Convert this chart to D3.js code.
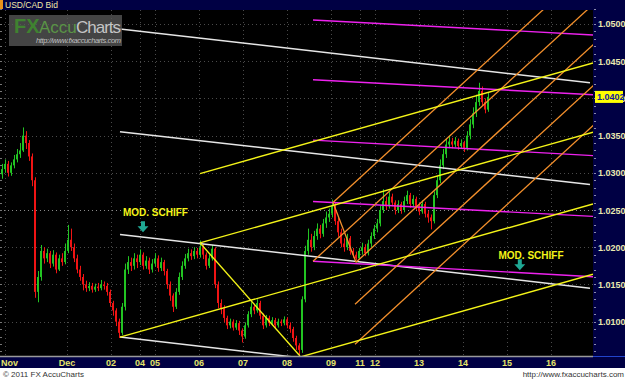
<!DOCTYPE html>
<html><head><meta charset="utf-8">
<script src="https://cdn.jsdelivr.net/npm/d3@7"></script>
<style>body{margin:0;background:#fff}svg{display:block}</style>
</head><body><svg id="c" width="625" height="380"></svg>
<script>
// ---------- DATA ----------
const firstOpen = 1.0298;
const closes = [
1.0305,1.0312,1.0300,1.0310,1.0318,1.0325,1.0330,1.0350,1.0340,1.0322,
1.0290,1.0140,1.0160,1.0195,1.0185,1.0192,1.0178,1.0190,1.0170,1.0185,
1.0180,1.0195,1.0210,1.0200,1.0185,1.0170,1.0160,1.0150,1.0145,1.0148,
1.0143,1.0147,1.0145,1.0150,1.0148,1.0140,1.0125,1.0115,1.0100,1.0085,
1.0120,1.0170,1.0180,1.0175,1.0185,1.0180,1.0190,1.0175,1.0182,1.0170,
1.0178,1.0185,1.0172,1.0180,1.0168,1.0150,1.0135,1.0120,1.0140,1.0160,
1.0175,1.0185,1.0192,1.0188,1.0195,1.0190,1.0200,1.0190,1.0175,1.0185,
1.0198,1.0150,1.0125,1.0118,1.0105,1.0095,1.0100,1.0092,1.0098,1.0088,
1.0080,1.0095,1.0110,1.0120,1.0115,1.0125,1.0108,1.0095,1.0105,1.0098,
1.0102,1.0095,1.0100,1.0098,1.0103,1.0095,1.0090,1.0078,1.0068,1.0062,
1.0130,1.0195,1.0210,1.0200,1.0215,1.0225,1.0218,1.0232,1.0240,1.0245,
1.0255,1.0235,1.0220,1.0205,1.0200,1.0212,1.0195,1.0190,1.0185,1.0195,
1.0200,1.0192,1.0205,1.0215,1.0225,1.0232,1.0250,1.0262,1.0255,1.0268,
1.0260,1.0250,1.0258,1.0250,1.0262,1.0270,1.0258,1.0265,1.0255,1.0248,
1.0258,1.0245,1.0240,1.0235,1.0270,1.0290,1.0310,1.0325,1.0338,1.0342,
1.0338,1.0343,1.0336,1.0340,1.0333,1.0350,1.0365,1.0380,1.0395,1.0410,
1.0395,1.0385,1.0402];
const highs = [
1.0312,1.0318,1.0316,1.0314,1.0324,1.0332,1.0340,1.0361,1.0356,1.0344,
1.0326,1.0294,1.0168,1.0203,1.0200,1.0198,1.0195,1.0196,1.0193,1.0190,
1.0192,1.0205,1.0230,1.0225,1.0205,1.0190,1.0175,1.0164,1.0155,1.0153,
1.0152,1.0151,1.0152,1.0156,1.0154,1.0152,1.0143,1.0128,1.0118,1.0104,
1.0125,1.0178,1.0188,1.0186,1.0192,1.0190,1.0197,1.0193,1.0188,1.0186,
1.0184,1.0192,1.0189,1.0186,1.0183,1.0171,1.0154,1.0138,1.0145,1.0166,
1.0181,1.0191,1.0198,1.0197,1.0200,1.0199,1.0209,1.0204,1.0193,1.0190,
1.0203,1.0200,1.0154,1.0130,1.0122,1.0108,1.0104,1.0103,1.0102,1.0101,
1.0091,1.0099,1.0114,1.0126,1.0124,1.0130,1.0128,1.0111,1.0109,1.0108,
1.0106,1.0105,1.0104,1.0103,1.0107,1.0106,1.0099,1.0093,1.0081,1.0071,
1.0134,1.0202,1.0225,1.0218,1.0222,1.0232,1.0230,1.0238,1.0248,1.0252,
1.0264,1.0260,1.0240,1.0225,1.0212,1.0218,1.0215,1.0199,1.0194,1.0199,
1.0206,1.0204,1.0210,1.0220,1.0230,1.0238,1.0256,1.0278,1.0268,1.0274,
1.0272,1.0263,1.0263,1.0261,1.0268,1.0276,1.0273,1.0270,1.0268,1.0259,
1.0263,1.0261,1.0249,1.0244,1.0275,1.0296,1.0318,1.0332,1.0346,1.0350,
1.0347,1.0348,1.0346,1.0345,1.0343,1.0356,1.0372,1.0388,1.0405,1.0421,
1.0416,1.0400,1.0408];
const lows = [
1.0292,1.0300,1.0295,1.0296,1.0306,1.0314,1.0320,1.0328,1.0332,1.0316,
1.0282,1.0132,1.0126,1.0155,1.0178,1.0180,1.0172,1.0174,1.0165,1.0168,
1.0175,1.0177,1.0192,1.0195,1.0180,1.0165,1.0155,1.0142,1.0140,1.0141,
1.0139,1.0140,1.0141,1.0142,1.0143,1.0135,1.0120,1.0108,1.0094,1.0078,
1.0082,1.0115,1.0164,1.0168,1.0170,1.0172,1.0176,1.0170,1.0171,1.0164,
1.0166,1.0174,1.0167,1.0168,1.0162,1.0144,1.0128,1.0113,1.0117,1.0136,
1.0156,1.0171,1.0181,1.0183,1.0184,1.0185,1.0186,1.0184,1.0170,1.0172,
1.0182,1.0145,1.0118,1.0110,1.0099,1.0090,1.0091,1.0088,1.0089,1.0082,
1.0072,1.0077,1.0092,1.0106,1.0110,1.0112,1.0103,1.0090,1.0092,1.0094,
1.0095,1.0091,1.0092,1.0094,1.0095,1.0091,1.0085,1.0073,1.0062,1.0054,
1.0058,1.0126,1.0190,1.0194,1.0196,1.0210,1.0212,1.0214,1.0226,1.0234,
1.0240,1.0230,1.0214,1.0200,1.0194,1.0196,1.0190,1.0186,1.0183,1.0184,
1.0190,1.0188,1.0189,1.0200,1.0211,1.0220,1.0228,1.0246,1.0250,1.0252,
1.0255,1.0244,1.0246,1.0245,1.0247,1.0258,1.0253,1.0254,1.0250,1.0243,
1.0245,1.0240,1.0233,1.0224,1.0232,1.0266,1.0286,1.0305,1.0320,1.0333,
1.0333,1.0334,1.0331,1.0332,1.0328,1.0330,1.0345,1.0360,1.0375,1.0390,
1.0390,1.0380,1.0382];

const priceTicks = [1.0100,1.0150,1.0200,1.0250,1.0300,1.0350,1.0400,1.0450,1.0500];
const priceLabels = ["1.0100","1.0150","1.0200","1.0250","1.0300","1.0350","1.0400","1.0450","1.0500"];
const lastPrice = 1.0402;
const lastPriceLabel = "1.0402";
// day ticks in bar units
const dayTicks  = [1, 21.67, 36.3, 46, 51, 65.7, 80.3, 95, 109.7, 119.3, 124.3, 139, 153.7, 168.3, 183];
const dayLabels = ["Nov","Dec","02","04","05","06","07","08","09","11","12","13","14","15","16"];

// drawn tool lines: [[bar, price],[bar, price]]
const whiteLines = [
  [[39.33,1.04933],[196,1.04209]],
  [[39.33,1.03552],[196,1.02842]],
  [[39.33,1.02172],[196,1.01449]],
  [[39.33,1.00792],[99.33,1.00515]]
];
const yellowLines = [
  [[66,1.0299],[197,1.04477]],
  [[66,1.02058],[197,1.03546]],
  [[39.33,1.00792],[197,1.02581]],
  [[99.33,1.00524],[197,1.01637]],
  [[66,1.02058],[99.33,1.00538]]
];
const magentaLines = [
  [[103.67,1.05054],[197,1.04853]],
  [[103.67,1.0425],[197,1.04049]],
  [[103.67,1.03439],[197,1.03231]],
  [[103.67,1.02615],[197,1.02414]],
  [[103.67,1.01811],[197,1.01603]]
];
const orangeLines = [
  [[110.33,1.02601],[199.33,1.05893]],
  [[103.67,1.01811],[199.33,1.05348]],
  [[118,1.01797],[199.33,1.04806]],
  [[117.67,1.01234],[199.33,1.04255]],
  [[117.67,1.00697],[199.33,1.03719]],
  [[110.33,1.02601],[118,1.01797]]
];
const notes = [
  {text:"MOD. SCHIFF", bar:40.33, price:1.02426, arrowBar:47, arrowPrice:1.0220},
  {text:"MOD. SCHIFF", bar:165.5, price:1.01837, arrowBar:172.6, arrowPrice:1.01689}
];

// ---------- DRAW ----------
const W=625,H=380, PL=0, PR=593, PT=10, PB=356;
const svg=d3.select("#c");
const x=d3.scaleLinear().domain([-0.667,197]).range([PL,PR]);
const y=d3.scaleLinear().domain([1.00538,1.05188]).range([PB,PT]);
const F="'Liberation Sans', Arial, sans-serif";

svg.append("rect").attr("width",W).attr("height",H).attr("fill","#ffffff");
svg.append("rect").attr("x",0).attr("y",0).attr("width",W).attr("height",368).attr("fill","#000044");
svg.append("rect").attr("x",PL).attr("y",PT).attr("width",PR-PL).attr("height",PB-PT).attr("fill","#000000");

svg.append("defs").append("clipPath").attr("id","pc").append("rect")
  .attr("x",PL).attr("y",PT).attr("width",PR-PL).attr("height",PB-PT);

const grid=svg.append("g");
priceTicks.forEach(p=>{
  grid.append("line").attr("x1",PL).attr("x2",PR).attr("y1",Math.round(y(p))+0.5).attr("y2",Math.round(y(p))+0.5)
    .attr("stroke", p===1.0250?"#8a8a8a":"#4a4a4a").attr("stroke-width",1).attr("stroke-dasharray","1,3");
});
dayTicks.forEach(t=>{
  grid.append("line").attr("x1",Math.round(x(t))+0.5).attr("x2",Math.round(x(t))+0.5).attr("y1",PT).attr("y2",PB)
    .attr("stroke","#4a4a4a").attr("stroke-width",1).attr("stroke-dasharray","1,3");
});
// minor ticks left and right
d3.range(1.006,1.052,0.001).forEach(p=>{
  const yy=Math.round(y(p))+0.5;
  grid.append("line").attr("x1",0).attr("x2",2).attr("y1",yy).attr("y2",yy).attr("stroke","#777");
  svg.append("line").attr("x1",594).attr("x2",596).attr("y1",yy).attr("y2",yy).attr("stroke","#8888aa");
});

// candles
const cg=svg.append("g").attr("clip-path","url(#pc)");
closes.forEach((c,i)=>{
  const o = i===0?firstOpen:closes[i-1];
  const up = c>=o;
  const col = up?"#22c422":"#f01414";
  const cx=Math.round(x(i));
  cg.append("rect").attr("x",cx).attr("width",1).attr("y",y(highs[i])).attr("height",Math.max(1,y(lows[i])-y(highs[i]))).attr("fill",col);
  const top=y(Math.max(o,c)), bot=y(Math.min(o,c));
  cg.append("rect").attr("x",cx-1).attr("width",2).attr("y",top).attr("height",Math.max(1,bot-top)).attr("fill",col);
});

// tool lines
const lg=svg.append("g").attr("clip-path","url(#pc)");
function drawLines(arr,col,w){
  arr.forEach(l=>{
    lg.append("line").attr("x1",x(l[0][0])).attr("y1",y(l[0][1])).attr("x2",x(l[1][0])).attr("y2",y(l[1][1]))
      .attr("stroke",col).attr("stroke-width",w);
  });
}
drawLines(whiteLines,"#e6e6e6",1.5);
drawLines(magentaLines,"#ee22ee",1.4);
drawLines(orangeLines,"#f4902c",1.3);
drawLines(yellowLines,"#f4f418",1.4);

// annotations
notes.forEach(n=>{
  svg.append("text").attr("x",x(n.bar)).attr("y",y(n.price)).attr("fill","#f4f418")
    .attr("font-family",F).attr("font-weight","bold").attr("font-size",10).text(n.text);
  const ax=x(n.arrowBar), ay=y(n.arrowPrice);
  svg.append("path").attr("d",`M${ax},${ay} L${ax-5.5},${ay-6} L${ax-2},${ay-6} L${ax-2},${ay-11} L${ax+2},${ay-11} L${ax+2},${ay-6} L${ax+5.5},${ay-6} Z`)
    .attr("fill","#1fa894");
});

// watermark
const wm=svg.append("g");
wm.append("rect").attr("x",9).attr("y",15).attr("width",113).attr("height",31).attr("fill","#555555").attr("opacity",0.8);
wm.append("text").attr("x",14).attr("y",33).attr("font-family",F).attr("font-weight","bold").attr("font-size",20).attr("fill","#3f8230").text("FX");
wm.append("text").attr("x",39).attr("y",33).attr("font-family",F).attr("font-size",17).attr("fill","#5a9446").text("Accu");
wm.append("text").attr("x",76).attr("y",33).attr("font-family",F).attr("font-size",17).attr("fill","#c4c4c4").attr("textLength",45).text("Charts");
wm.append("text").attr("x",36).attr("y",43).attr("font-family",F).attr("font-size",7.5).attr("font-style","italic").attr("fill","#c0c0c0").attr("textLength",85).text("http://www.fxaccucharts.com");

// header
svg.append("rect").attr("x",0).attr("y",0).attr("width",3).attr("height",9).attr("fill","#e8901c");
svg.append("text").attr("x",5).attr("y",8).attr("font-family",F).attr("font-size",8.5).attr("fill","#f0e8a8").text("USD/CAD Bid");

// bottom axis
svg.append("line").attr("x1",0).attr("x2",PR).attr("y1",PB+0.5).attr("y2",PB+0.5).attr("stroke","#9a9a9a").attr("stroke-width",1.5);
svg.append("line").attr("x1",PR).attr("x2",W).attr("y1",PB+0.5).attr("y2",PB+0.5).attr("stroke","#2244cc").attr("stroke-width",1);
dayTicks.forEach((t,i)=>{
  const px=x(t);
  const edge = px < 10;
  svg.append("text").attr("x",edge?1:px).attr("y",366).attr("text-anchor",edge?"start":"middle").attr("font-family",F)
    .attr("font-weight","bold").attr("font-size",9).attr("fill","#e4e46a").text(dayLabels[i]);
});
// right axis
priceTicks.forEach((p,i)=>{
  svg.append("text").attr("x",598).attr("y",y(p)+3.5).attr("font-family",F).attr("font-weight","bold")
    .attr("font-size",9).attr("fill","#e8e8b0").text(priceLabels[i]);
});
svg.append("rect").attr("x",595).attr("y",y(lastPrice)-6).attr("width",28).attr("height",12).attr("fill","#ffff00");
svg.append("text").attr("x",597).attr("y",y(lastPrice)+3.5).attr("font-family",F).attr("font-weight","bold")
  .attr("font-size",9).attr("fill","#1020a0").text(lastPriceLabel);

// footer
svg.append("text").attr("x",3).attr("y",377).attr("font-family",F).attr("font-size",8).attr("fill","#333").text("© 2011 FX AccuCharts");
svg.append("text").attr("x",624).attr("y",377).attr("text-anchor","end").attr("font-family",F).attr("font-size",8).attr("fill","#333").text("http://www.fxaccucharts.com");
</script></body></html>
